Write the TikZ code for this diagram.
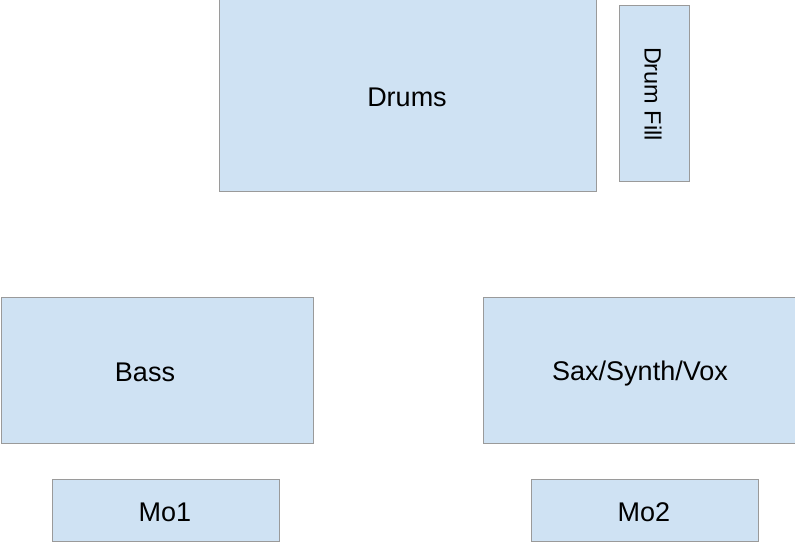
\documentclass[tikz,border=0pt]{standalone}
\usepackage{fontspec}
\setmainfont{Liberation Sans}
\definecolor{boxfill}{HTML}{CFE2F3}
\definecolor{boxline}{HTML}{9A9A9A}
\begin{document}
\begin{tikzpicture}[x=1pt,y=-1pt,
  blk/.style={draw=boxline,fill=boxfill,line width=1pt},
  lbl/.style={font=\fontsize{27}{31}\selectfont,text=black,inner sep=0pt}]
\useasboundingbox (0,0) rectangle (795,543);
\begin{scope}
\clip (0,0) rectangle (795,543);
\draw[blk] (219,-5) rectangle (596,191);
\draw[blk] (619,6) rectangle (689,181);
\draw[blk] (1,297) rectangle (313,443);
\draw[blk] (483,297) rectangle (800,443);
\draw[blk] (52,479) rectangle (279,541);
\draw[blk] (531,479) rectangle (758,541);
\end{scope}
\node[lbl] (drums) at (407,97) {Drums};
\node[lbl,font=\fontsize{23.5}{28}\selectfont,rotate=-90] (fill) at (653,94) {Drum Fill};
\node[lbl] (bass) at (145,372) {Bass};
\node[lbl] (sax) at (640,374) {Sax/Synth/Vox};
\node[lbl] (mo1) at (165,512) {Mo1};
\node[lbl] (mo2) at (644,512) {Mo2};
\end{tikzpicture}
\end{document}
